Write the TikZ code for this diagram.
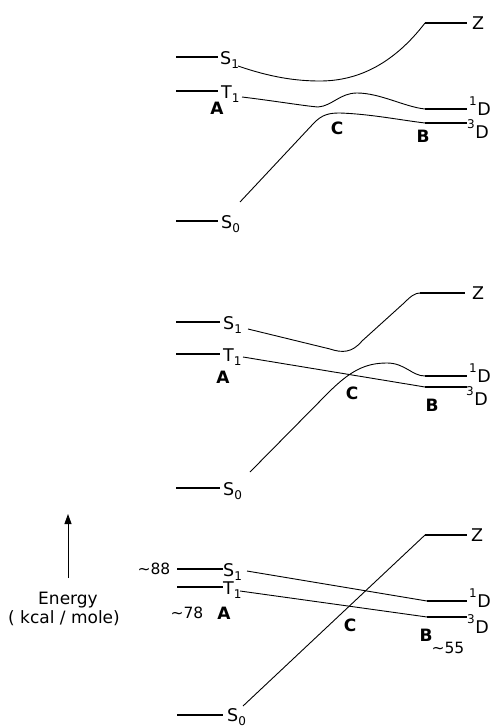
\documentclass[tikz,border=0pt]{standalone}
\usepackage{fontspec}
\setmainfont{DejaVu Sans}
\usetikzlibrary{arrows.meta}
% state name with a lowered index, term symbol with a raised multiplicity
\newcommand\stname[2]{#1\raisebox{-4pt}{\fontsize{12}{12}\selectfont #2}}
\newcommand\termsym[2]{\raisebox{10pt}{\fontsize{12}{12}\selectfont #1}\kern0.5pt #2}
\begin{document}
\begin{tikzpicture}[x=1pt,y=-1pt,
  level/.style={line width=1.4pt},
  curve/.style={line width=0.9pt},
  lbl/.style={inner sep=0pt,anchor=base west,font=\fontsize{17.5}{17.5}\selectfont},
  zlbl/.style={inner sep=0pt,anchor=west,font=\fontsize{17.5}{17.5}\selectfont},
  pt/.style={inner sep=0pt,font=\bfseries\fontsize{17}{17}\selectfont},
  num/.style={inner sep=0pt,font=\fontsize{15.5}{15.5}\selectfont},
  axis/.style={inner sep=0pt,font=\fontsize{17}{17}\selectfont}]
\useasboundingbox (0,0) rectangle (491,728);

% ---------- upper correlation diagram ----------
\coordinate (a1s1l) at (176,57);  \coordinate (a1s1r) at (218,57);
\coordinate (a1t1l) at (176,91);  \coordinate (a1t1r) at (218,91);
\coordinate (a1s0l) at (176,221); \coordinate (a1s0r) at (218,221);
\coordinate (a1zl) at (425,23);   \coordinate (a1zr) at (467,23);
\coordinate (a1dsl) at (425,109); \coordinate (a1dsr) at (467,109);
\coordinate (a1dtl) at (425,123); \coordinate (a1dtr) at (467,123);
\coordinate (a1s1c) at (238,66);
\coordinate (a1t1c) at (242,97);
\coordinate (a1s0c) at (240,202);
\node[lbl] (a1S1) at (220,64) {\stname{S}{1}};
\node[lbl] (a1T1) at (221,98) {\stname{T}{1}};
\node[lbl] (a1S0) at (221,228) {\stname{S}{0}};
\node[zlbl] (a1Z) at (472,23) {Z};
\node[lbl] (a1D1) at (469,115) {\termsym{1}{D}};
\node[lbl] (a1D3) at (467,138) {\termsym{3}{D}};
\node[pt] (a1A) at (217,108) {A};
\node[pt] (a1C) at (337,128) {C};
\node[pt] (a1B) at (423,136) {B};
\draw[level] (a1s1l) -- (a1s1r);
\draw[level] (a1t1l) -- (a1t1r);
\draw[level] (a1s0l) -- (a1s0r);
\draw[level] (a1zl) -- (a1zr);
\draw[level] (a1dsl) -- (a1dsr);
\draw[level] (a1dtl) -- (a1dtr);
\draw[curve] (a1s1c) .. controls (270,77) and (295,81) .. (320,81)
  .. controls (360,81) and (395,62) .. (a1zl);
\draw[curve] (a1t1c) .. controls (275,101) and (305,106) .. (318,107)
  .. controls (332,106) and (340,93) .. (357,93)
  .. controls (380,93) and (405,107) .. (a1dsl);
\draw[curve] (a1s0c) -- (313,124) .. controls (322,114) and (330,113) .. (340,113)
  .. controls (370,114) and (400,120) .. (a1dtl);

% ---------- middle correlation diagram ----------
\coordinate (a2s1l) at (176,322); \coordinate (a2s1r) at (220,322);
\coordinate (a2t1l) at (176,354); \coordinate (a2t1r) at (220,354);
\coordinate (a2s0l) at (176,488); \coordinate (a2s0r) at (220,488);
\coordinate (a2zl) at (420,293);  \coordinate (a2zr) at (465,293);
\coordinate (a2dsl) at (425,376); \coordinate (a2dsr) at (467,376);
\coordinate (a2dtl) at (425,387); \coordinate (a2dtr) at (467,387);
\coordinate (a2s1c) at (248,329);
\coordinate (a2t1c) at (243,357);
\coordinate (a2s0c) at (250,472);
\node[lbl] (a2S1) at (223,329) {\stname{S}{1}};
\node[lbl] (a2T1) at (223,361) {\stname{T}{1}};
\node[lbl] (a2S0) at (223,495) {\stname{S}{0}};
\node[zlbl] (a2Z) at (472,293) {Z};
\node[lbl] (a2D1) at (469,382) {\termsym{1}{D}};
\node[lbl] (a2D3) at (466,405) {\termsym{3}{D}};
\node[pt] (a2A) at (223,377) {A};
\node[pt] (a2C) at (352,393) {C};
\node[pt] (a2B) at (432,405) {B};
\draw[level] (a2s1l) -- (a2s1r);
\draw[level] (a2t1l) -- (a2t1r);
\draw[level] (a2s0l) -- (a2s0r);
\draw[level] (a2zl) -- (a2zr);
\draw[level] (a2dsl) -- (a2dsr);
\draw[level] (a2dtl) -- (a2dtr);
\draw[curve] (a2s1c) -- (330,349) .. controls (342,353) and (352,353) .. (362,341)
  -- (404,303) .. controls (411,296) and (415,293) .. (a2zl);
\draw[curve] (a2t1c) -- (a2dtl);
\draw[curve] (a2s0c) -- (328,393) .. controls (350,371) and (365,363) .. (387,363)
  .. controls (405,363) and (412,376) .. (a2dsl);

% ---------- lower correlation diagram with energies ----------
\coordinate (eb) at (68,578); \coordinate (et) at (68,514);
\draw[line width=0.9pt,-{Triangle[length=10pt,width=7pt]}] (eb) -- (et);
\node[axis] (en) at (68,600) {Energy};
\node[axis] (un) at (64,618) {( kcal / mole)};

\coordinate (a3s1l) at (177,569); \coordinate (a3s1r) at (223,569);
\coordinate (a3t1l) at (177,587); \coordinate (a3t1r) at (223,587);
\coordinate (a3s0l) at (177,715); \coordinate (a3s0r) at (223,715);
\coordinate (a3zl) at (425,535);  \coordinate (a3zr) at (467,535);
\coordinate (a3dsl) at (427,601); \coordinate (a3dsr) at (467,601);
\coordinate (a3dtl) at (427,617); \coordinate (a3dtr) at (467,617);
\coordinate (a3s1c) at (247,571);
\coordinate (a3t1c) at (240,591);
\coordinate (a3s0c) at (243,706);
\node[num] (e88) at (154,569) {\textasciitilde 88};
\node[num] (e78) at (187,613) {\textasciitilde 78};
\node[num] (e55) at (448,648) {\textasciitilde 55};
\node[lbl] (a3S1) at (223,576) {\stname{S}{1}};
\node[lbl] (a3T1) at (223,594) {\stname{T}{1}};
\node[lbl] (a3S0) at (227,721) {\stname{S}{0}};
\node[zlbl] (a3Z) at (471,535) {Z};
\node[lbl] (a3D1) at (469,607) {\termsym{1}{D}};
\node[lbl] (a3D3) at (467,633) {\termsym{3}{D}};
\node[pt] (a3A) at (224,613) {A};
\node[pt] (a3C) at (350,625) {C};
\node[pt] (a3B) at (426,635) {B};
\draw[level] (a3s1l) -- (a3s1r);
\draw[level] (a3t1l) -- (a3t1r);
\draw[level] (a3s0l) -- (a3s0r);
\draw[level] (a3zl) -- (a3zr);
\draw[level] (a3dsl) -- (a3dsr);
\draw[level] (a3dtl) -- (a3dtr);
\draw[curve] (a3s1c) -- (a3dsl);
\draw[curve] (a3t1c) -- (a3dtl);
\draw[curve] (a3s0c) -- (a3zl);
\end{tikzpicture}
\end{document}
